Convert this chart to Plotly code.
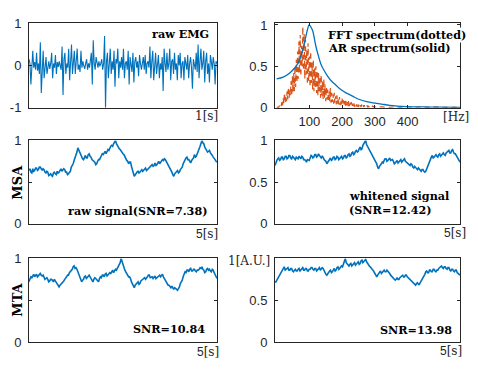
import numpy as np
import plotly.graph_objects as go

# ---------------- data ----------------
emg_values = [
    0.15, 0.05, -0.45, 0.1, 0.35, -0.05, 0.08, -0.1, 0.3, -0.12, 0.05, -0.2, 0.55, -0.65, 0.1, 0.35, -0.3, 0.05, 0.2, -0.2,
    0.02, 0.1, -0.08, 0.05, 0.3, -0.3, 0.05, -0.05, 0.25, -0.2, 0.08, -0.03, 0.1, 0.02, -0.1, 0.45, -0.7, 0.15, 0.3, -0.2,
    0.05, -0.05, 0.4, -0.35, 0.1, 0.5, -0.2, 0.05, 0.35, -0.2, 0.1, 0.4, -0.1, 0.02, -0.15, 0.35, -0.05, 0.1, 0.0, -0.08,
    0.05, 0.15, -0.1, 0.05, -0.05, 0.1, 0.3, -0.45, 0.6, 0.05, -0.1, 0.2, 0.02, -0.05, 0.1, -0.02, 0.05, 0.15, -0.1, 0.05,
    0.7, -1.0, 0.1, 0.3, -0.3, 0.05, 0.4, -0.2, 0.1, -0.1, 0.35, -0.5, 0.15, 0.05, 0.4, -0.3, 0.1, -0.05, 0.2, -0.1,
    0.4, -0.3, 0.05, 0.1, -0.1, 0.35, -0.45, 0.2, 0.05, -0.15, 0.3, -0.4, 0.1, 0.2, -0.05, 0.1, -0.25, 0.25, 0.05, -0.1,
    0.05, 0.2, -0.1, 0.25, -0.2, 0.05, 0.1, -0.05, 0.45, -0.3, 0.1, 0.35, -0.35, 0.05, 0.3, -0.2, 0.1, 0.25, -0.3, 0.05,
    -0.1, 0.2, -0.6, 0.4, 0.05, -0.15, 0.3, -0.1, 0.05, 0.4, -0.35, 0.1, 0.15, -0.2, 0.3, -0.1, 0.05, -0.35, 0.25, 0.0,
    0.3, -0.3, 0.05, 0.1, -0.35, 0.2, 0.05, -0.1, 0.25, -0.3, 0.05, 0.2, -0.05, -0.55, 0.15, 0.05, -0.1, 0.3, -0.15, 0.5,
    -0.3, 0.1, 0.4, -0.1, 0.05, 0.35, -0.4, 0.1, 0.3, -0.2, 0.05, -0.4, 0.25, 0.1, -0.1, 0.2, 0.05, -0.45, 0.1, 0.05,
]

fft_amp = [
    0.00, 0.00, 0.01, 0.00, 0.02, 0.01, 0.04, 0.02, 0.08, 0.03, 0.12, 0.05, 0.18, 0.06, 0.15, 0.08, 0.20, 0.10, 0.25, 0.12,
    0.22, 0.15, 0.32, 0.14, 0.38, 0.18, 0.42, 0.20, 0.50, 0.25, 0.58, 0.30, 0.68, 0.35, 0.80, 0.42, 0.88, 0.38, 0.75, 0.50,
    0.98, 0.45, 0.90, 0.35, 0.82, 0.40, 0.70, 0.28, 0.78, 0.32, 0.62, 0.25, 0.68, 0.30, 0.55, 0.22, 0.58, 0.20, 0.48, 0.25,
    0.50, 0.18, 0.45, 0.15, 0.42, 0.20, 0.38, 0.12, 0.40, 0.15, 0.32, 0.10, 0.35, 0.12, 0.28, 0.08, 0.25, 0.10, 0.22, 0.07,
    0.20, 0.08, 0.24, 0.06, 0.18, 0.07, 0.16, 0.05, 0.18, 0.06, 0.14, 0.04, 0.15, 0.05, 0.12, 0.04, 0.13, 0.03, 0.10, 0.04,
    0.11, 0.03, 0.09, 0.03, 0.08, 0.02, 0.09, 0.03, 0.07, 0.02, 0.08, 0.02, 0.06, 0.02, 0.07, 0.01, 0.05, 0.02, 0.06, 0.01,
    0.05, 0.02, 0.04, 0.01, 0.05, 0.01, 0.04, 0.01, 0.03, 0.01, 0.04, 0.01, 0.03, 0.01, 0.03, 0.01, 0.02, 0.01, 0.03, 0.01,
    0.02, 0.01, 0.02, 0.01, 0.02, 0.01, 0.02, 0.01, 0.01, 0.02, 0.01,
    0.01, 0.005, 0.01, 0.005, 0.01, 0.005, 0.01, 0.005, 0.01, 0.005, 0.005, 0.005, 0.005,
]
fft_freq = list(range(0, 302, 2)) + [320, 340, 360, 380, 400, 420, 440, 460, 480, 500, 520, 540, 560]

ar_freq = [0, 20, 40, 55, 64, 72, 80, 88, 94, 99, 104, 110, 120, 128, 135, 145, 156, 168, 182, 196, 212, 232, 253, 275, 294, 320, 345, 396, 450, 500, 560]
ar_amp = [0.35, 0.37, 0.42, 0.48, 0.53, 0.60, 0.70, 0.84, 0.94, 1.00, 0.98, 0.93, 0.74, 0.62, 0.53, 0.45, 0.38, 0.32, 0.27, 0.22, 0.18, 0.14, 0.10, 0.075, 0.06, 0.045, 0.03, 0.015, 0.01, 0.007, 0.005]

msa_raw = [
    0.64, 0.66, 0.62, 0.61, 0.66, 0.63, 0.64, 0.67, 0.67, 0.64, 0.65, 0.68, 0.68, 0.65, 0.64, 0.66, 0.65, 0.62, 0.61, 0.63,
    0.62, 0.58, 0.59, 0.60, 0.58, 0.57, 0.61, 0.62, 0.60, 0.59, 0.63, 0.61, 0.62, 0.65, 0.66, 0.63, 0.64, 0.66, 0.65, 0.62,
    0.62, 0.59, 0.60, 0.62, 0.63, 0.68, 0.70, 0.72, 0.76, 0.79, 0.84, 0.86, 0.91, 0.88, 0.86, 0.82, 0.80, 0.78, 0.77, 0.80,
    0.82, 0.79, 0.79, 0.83, 0.84, 0.81, 0.80, 0.77, 0.76, 0.76, 0.74, 0.71, 0.72, 0.75, 0.77, 0.77, 0.80, 0.83, 0.84, 0.83,
    0.86, 0.87, 0.84, 0.87, 0.89, 0.88, 0.91, 0.93, 0.94, 0.93, 0.96, 0.99, 1.00, 0.96, 0.94, 0.91, 0.90, 0.89, 0.87, 0.85,
    0.84, 0.83, 0.80, 0.77, 0.76, 0.75, 0.72, 0.74, 0.74, 0.69, 0.66, 0.61, 0.57, 0.59, 0.60, 0.62, 0.63, 0.61, 0.62, 0.64,
    0.65, 0.63, 0.64, 0.66, 0.67, 0.64, 0.65, 0.67, 0.68, 0.68, 0.70, 0.71, 0.69, 0.70, 0.73, 0.70, 0.71, 0.74, 0.75, 0.72,
    0.74, 0.76, 0.77, 0.76, 0.78, 0.77, 0.75, 0.73, 0.71, 0.69, 0.66, 0.65, 0.62, 0.59, 0.57, 0.60, 0.61, 0.63, 0.64, 0.61,
    0.62, 0.65, 0.67, 0.68, 0.72, 0.75, 0.76, 0.79, 0.80, 0.77, 0.77, 0.75, 0.73, 0.76, 0.78, 0.79, 0.83, 0.80, 0.81, 0.85,
    0.88, 0.90, 0.93, 0.97, 1.00, 0.97, 0.96, 0.92, 0.90, 0.89, 0.86, 0.87, 0.88, 0.85, 0.84, 0.82, 0.80, 0.79, 0.77, 0.75,
    0.74,
]
msa_white = [
    0.70, 0.74, 0.76, 0.78, 0.79, 0.76, 0.77, 0.80, 0.80, 0.77, 0.78, 0.81, 0.81, 0.78, 0.79, 0.82, 0.82, 0.79, 0.78, 0.81,
    0.80, 0.78, 0.77, 0.80, 0.79, 0.78, 0.81, 0.80, 0.78, 0.81, 0.80, 0.77, 0.77, 0.76, 0.74, 0.77, 0.76, 0.76, 0.79, 0.82,
    0.81, 0.79, 0.80, 0.83, 0.83, 0.80, 0.81, 0.84, 0.82, 0.80, 0.79, 0.81, 0.80, 0.77, 0.76, 0.75, 0.72, 0.74, 0.75, 0.78,
    0.79, 0.76, 0.77, 0.80, 0.80, 0.77, 0.78, 0.81, 0.80, 0.77, 0.78, 0.80, 0.81, 0.78, 0.79, 0.82, 0.82, 0.79, 0.80, 0.83,
    0.84, 0.81, 0.82, 0.85, 0.86, 0.83, 0.84, 0.87, 0.88, 0.86, 0.87, 0.90, 0.92, 0.89, 0.90, 0.94, 0.96, 0.97, 1.00, 0.95,
    0.93, 0.91, 0.88, 0.87, 0.84, 0.83, 0.80, 0.79, 0.76, 0.75, 0.72, 0.68, 0.66, 0.69, 0.70, 0.72, 0.74, 0.73, 0.76, 0.78,
    0.78, 0.75, 0.76, 0.78, 0.79, 0.76, 0.77, 0.77, 0.75, 0.72, 0.73, 0.75, 0.76, 0.73, 0.74, 0.76, 0.77, 0.74, 0.75, 0.77,
    0.78, 0.75, 0.74, 0.73, 0.72, 0.71, 0.70, 0.72, 0.71, 0.68, 0.67, 0.69, 0.68, 0.66, 0.65, 0.67, 0.66, 0.64, 0.63, 0.65,
    0.65, 0.63, 0.62, 0.63, 0.66, 0.69, 0.72, 0.76, 0.79, 0.80, 0.82, 0.79, 0.80, 0.82, 0.83, 0.81, 0.80, 0.83, 0.84, 0.81,
    0.82, 0.84, 0.85, 0.83, 0.82, 0.85, 0.86, 0.86, 0.88, 0.85, 0.85, 0.88, 0.89, 0.86, 0.84, 0.84, 0.82, 0.80, 0.78, 0.77,
    0.74,
]
mta_raw = [
    0.72, 0.76, 0.78, 0.77, 0.80, 0.81, 0.78, 0.80, 0.81, 0.78, 0.79, 0.81, 0.82, 0.80, 0.79, 0.80, 0.78, 0.75, 0.76, 0.77,
    0.75, 0.72, 0.73, 0.75, 0.75, 0.73, 0.72, 0.75, 0.73, 0.71, 0.70, 0.68, 0.66, 0.68, 0.69, 0.70, 0.72, 0.73, 0.75, 0.76,
    0.78, 0.80, 0.80, 0.83, 0.84, 0.85, 0.87, 0.90, 0.91, 0.88, 0.89, 0.87, 0.84, 0.81, 0.78, 0.74, 0.72, 0.74, 0.75, 0.78,
    0.79, 0.76, 0.77, 0.79, 0.80, 0.78, 0.76, 0.74, 0.72, 0.75, 0.77, 0.76, 0.75, 0.73, 0.72, 0.76, 0.78, 0.77, 0.80, 0.80,
    0.78, 0.81, 0.82, 0.79, 0.80, 0.82, 0.83, 0.82, 0.85, 0.86, 0.83, 0.86, 0.87, 0.86, 0.88, 0.90, 0.92, 0.95, 1.00, 0.96,
    0.93, 0.89, 0.86, 0.84, 0.82, 0.80, 0.78, 0.78, 0.76, 0.72, 0.70, 0.67, 0.65, 0.68, 0.69, 0.71, 0.72, 0.69, 0.70, 0.73,
    0.74, 0.74, 0.76, 0.77, 0.75, 0.76, 0.78, 0.80, 0.80, 0.77, 0.78, 0.78, 0.76, 0.78, 0.79, 0.76, 0.77, 0.79, 0.80, 0.80,
    0.78, 0.80, 0.81, 0.78, 0.76, 0.74, 0.72, 0.70, 0.68, 0.68, 0.66, 0.65, 0.67, 0.64, 0.63, 0.65, 0.64, 0.62, 0.62, 0.64,
    0.66, 0.70, 0.72, 0.74, 0.78, 0.82, 0.84, 0.83, 0.86, 0.86, 0.84, 0.87, 0.88, 0.85, 0.85, 0.87, 0.87, 0.85, 0.84, 0.86,
    0.86, 0.87, 0.89, 0.88, 0.90, 0.87, 0.86, 0.83, 0.84, 0.87, 0.88, 0.86, 0.87, 0.85, 0.84, 0.87, 0.86, 0.83, 0.80, 0.79,
    0.76,
]
mta_white = [
    0.72, 0.72, 0.74, 0.76, 0.77, 0.80, 0.82, 0.83, 0.86, 0.87, 0.90, 0.86, 0.87, 0.89, 0.89, 0.86, 0.86, 0.88, 0.88, 0.85,
    0.84, 0.86, 0.87, 0.85, 0.85, 0.87, 0.88, 0.85, 0.86, 0.88, 0.89, 0.86, 0.86, 0.88, 0.88, 0.85, 0.85, 0.87, 0.87, 0.89,
    0.89, 0.87, 0.86, 0.88, 0.88, 0.85, 0.86, 0.88, 0.89, 0.86, 0.87, 0.89, 0.88, 0.85, 0.84, 0.81, 0.80, 0.82, 0.83, 0.85,
    0.86, 0.83, 0.84, 0.87, 0.88, 0.85, 0.86, 0.89, 0.90, 0.87, 0.88, 0.90, 0.91, 0.90, 0.93, 0.96, 1.00, 0.95, 0.94, 0.92,
    0.91, 0.93, 0.94, 0.91, 0.92, 0.94, 0.95, 0.92, 0.93, 0.95, 0.96, 0.93, 0.94, 0.97, 0.98, 0.95, 0.96, 0.98, 0.99, 0.96,
    0.94, 0.93, 0.91, 0.90, 0.88, 0.87, 0.86, 0.83, 0.82, 0.80, 0.78, 0.80, 0.82, 0.84, 0.85, 0.82, 0.83, 0.85, 0.86, 0.84,
    0.84, 0.86, 0.85, 0.83, 0.82, 0.80, 0.79, 0.77, 0.76, 0.76, 0.74, 0.75, 0.77, 0.75, 0.75, 0.77, 0.78, 0.79, 0.80, 0.78,
    0.78, 0.80, 0.80, 0.78, 0.77, 0.75, 0.74, 0.74, 0.72, 0.72, 0.70, 0.70, 0.68, 0.70, 0.71, 0.69, 0.69, 0.71, 0.73, 0.74,
    0.76, 0.79, 0.81, 0.84, 0.85, 0.83, 0.83, 0.86, 0.86, 0.84, 0.84, 0.87, 0.87, 0.85, 0.84, 0.86, 0.86, 0.88, 0.89, 0.89,
    0.91, 0.89, 0.88, 0.90, 0.90, 0.88, 0.87, 0.89, 0.89, 0.86, 0.85, 0.87, 0.87, 0.85, 0.84, 0.86, 0.86, 0.83, 0.82, 0.81,
    0.80,
]

t_emg = np.linspace(0, 1, len(emg_values))

BLUE = "#0072BD"
ORANGE = "#D95319"
AXC = "#262626"
W, H = 478, 373


def px(x):
    return x / W


def py(y):
    return 1 - y / H


fig = go.Figure()

fig.add_trace(go.Scatter(x=t_emg, y=emg_values, mode="lines", line=dict(color=BLUE, width=1.1), xaxis="x", yaxis="y"))
fig.add_trace(go.Scatter(x=fft_freq, y=fft_amp, mode="lines", line=dict(color=ORANGE, width=1.2, dash="5px,4px"), xaxis="x2", yaxis="y2"))
fig.add_trace(go.Scatter(x=ar_freq, y=ar_amp, mode="lines", line=dict(color=BLUE, width=1.3, shape="spline"), xaxis="x2", yaxis="y2"))
sw = 1.6
for series, ax in [(msa_raw, "3"), (msa_white, "4"), (mta_raw, "5"), (mta_white, "6")]:
    fig.add_trace(go.Scatter(x=np.linspace(0, 5, len(series)), y=series, mode="lines",
                             line=dict(color=BLUE, width=sw), xaxis="x" + ax, yaxis="y" + ax))

tickfont = dict(family="Liberation Sans, Arial", size=13, color=AXC)

LX = [px(29), px(217)]
RX = [px(275), px(460)]
ROW1 = [py(105), py(17)]
ROW2 = [py(226), py(139)]
ROW3 = [py(349), py(262)]


def xax(domain, anchor, rng, ticks=False):
    d = dict(domain=domain, anchor=anchor, range=rng, showline=True, linecolor=AXC, linewidth=1,
             mirror=True, showgrid=False, zeroline=False, tickfont=tickfont)
    if ticks:
        d.update(tickvals=[100, 200, 300, 400], ticks="inside", ticklen=3, tickcolor=AXC,
                 mirror="ticks", ticklabelstandoff=2)
    else:
        d.update(showticklabels=False, ticks="")
    return d


def yax(domain, anchor, rng, tickvals, ticktext):
    return dict(domain=domain, anchor=anchor, range=rng, showline=True, linecolor=AXC, linewidth=1,
                mirror="ticks", ticks="inside", ticklen=3, tickcolor=AXC, showgrid=False, zeroline=False,
                tickvals=tickvals, ticktext=ticktext, tickfont=tickfont, ticklabelstandoff=4)


fig.update_layout(
    width=W, height=H, autosize=False, showlegend=False,
    margin=dict(l=0, r=0, t=0, b=0),
    paper_bgcolor="white", plot_bgcolor="white",
    xaxis=xax(LX, "y", [0, 1]),
    yaxis=yax(ROW1, "x", [-1, 1], [-1, 0, 1], ["-1", "0", "1"]),
    xaxis2=xax(RX, "y2", [-5, 560], ticks=True),
    yaxis2=yax(ROW1, "x2", [0, 1.02], [0, 0.5, 1], ["0", "0.5", "1"]),
    xaxis3=xax(LX, "y3", [0, 5]),
    yaxis3=yax(ROW2, "x3", [0, 1], [0, 0.5, 1], ["0", "", "1"]),
    xaxis4=xax(RX, "y4", [0, 5]),
    yaxis4=yax(ROW2, "x4", [0, 1], [0, 0.5, 1], ["0", "0.5", "1"]),
    xaxis5=xax(LX, "y5", [0, 5]),
    yaxis5=yax(ROW3, "x5", [0, 1], [0, 0.5, 1], ["0", "", "1"]),
    xaxis6=xax(RX, "y6", [0, 5]),
    yaxis6=yax(ROW3, "x6", [0, 1], [0, 0.5, 1], ["0", "0.5", ""]),
)

SERIF = "DejaVu Serif"
bold = dict(family=SERIF, size=11.2, color="black", weight="bold")
unit = dict(family=SERIF, size=12, color=AXC)
num_span = '<span style="font-family:Liberation Sans, Arial">{}</span>'


def ann(x, y, text, font, xanchor="left", bg=None, angle=0):
    d = dict(x=px(x), y=py(y), xref="paper", yref="paper", text=text, showarrow=False,
             xanchor=xanchor, yanchor="middle", font=font, textangle=angle, borderpad=0)
    if bg:
        d["bgcolor"] = bg
    fig.add_annotation(**d)


ann(210, 28, "raw EMG", bold, "right")
ann(327, 29, "FFT spectrum(dotted)", bold, "left", bg="white")
ann(327, 43, "AR spectrum(solid)", bold, "left", bg="white")
ann(208, 213, "raw signal(SNR=7.38)", bold, "right")
ann(348, 197, "whitened signal", bold, "left")
ann(348, 212, "(SNR=12.42)", bold, "left")
ann(206, 336, "SNR=10.84", bold, "right")
ann(453, 337, "SNR=13.98", bold, "right")

ylab = dict(family=SERIF, size=13, color="black", weight="bold")
ann(18, 183, "MSA", ylab, "center", angle=-90)
ann(18, 305, "MTA", ylab, "center", angle=-90)

ann(219, 114, "1[s]", unit, "right")
ann(219, 236, num_span.format("5") + "[s]", unit, "right")
ann(467, 235, num_span.format("5") + "[s]", unit, "right")
ann(220, 359, num_span.format("5") + "[s]", unit, "right")
ann(463, 358, num_span.format("5") + "[s]", unit, "right")
ann(456, 115, "[Hz]", unit, "center")
ann(271, 265, "1[A.U.]", unit, "right")

fig.write_html("out.html", config={"displayModeBar": False, "staticPlot": True},
               post_script="document.body.style.margin='0px';")
